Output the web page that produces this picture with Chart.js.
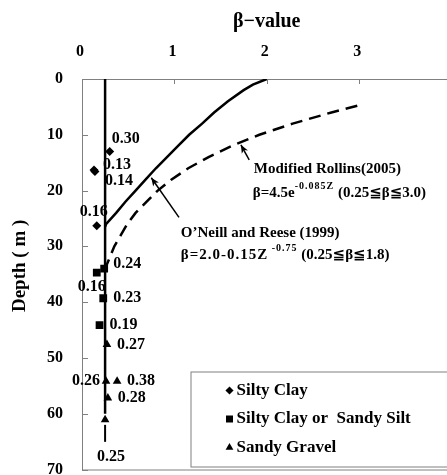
<!DOCTYPE html>
<html>
<head>
<meta charset="utf-8">
<script src="https://cdn.jsdelivr.net/npm/chart.js@4.4.0/dist/chart.umd.min.js"></script>
<style>
  html, body { margin: 0; padding: 0; background: #fff; overflow: hidden; }
  #wrap { width: 457px; height: 475px; }
</style>
</head>
<body>
<div id="wrap"><canvas id="grafico" width="457" height="475"></canvas></div>
<script>
// Ensaios: profundidade (m) e beta medido por tipo de solo
const clayDepth = [13.0, 16.3, 16.6, 26.3];
const clayBeta = [0.30, 0.13, 0.14, 0.16];
const siltDepth = [34.0, 34.7, 39.3, 44.1];
const siltBeta = [0.24, 0.16, 0.23, 0.19];
const gravelDepth = [47.6, 54.2, 54.2, 57.2, 61.1];
const gravelBeta = [0.27, 0.26, 0.38, 0.28, 0.25];

// Curvas de projeto
const oneillDepth = [0, 1, 2, 4, 6, 8, 10, 12, 14, 16, 18, 20, 22, 24, 26, 26.5];
const oneillBeta = [2.00, 1.85, 1.75, 1.58, 1.43, 1.30, 1.16, 1.04, 0.92, 0.80, 0.69, 0.58, 0.47, 0.37, 0.26, 0.25];
const rollinsDepth = [4.8, 6, 8, 10, 12, 14, 16, 18, 20, 22, 24, 26, 28, 30, 32, 34];
const rollinsBeta = [2.98, 2.70, 2.28, 1.92, 1.62, 1.37, 1.15, 0.97, 0.82, 0.70, 0.58, 0.49, 0.42, 0.35, 0.30, 0.25];
const limitDepth = [0, 60];
const limitBeta = [0.25, 0.25];

// Eixos
const betaTicks = [0, 1, 2, 3];
const depthTicks = [0, 10, 20, 30, 40, 50, 60, 70];

// Onde cada rótulo fica em relação ao ponto
const clayPlace = ['upRight', 'rightHigh', 'rightLow', 'above'];
const siltPlace = ['rightHigh', 'below', 'right', 'right'];
const gravelPlace = ['right', 'left', 'right', 'right', 'tip'];

const FONT = '"Liberation Serif", "Times New Roman", "DejaVu Sans", serif';

function toXY(betas, depths) {
    return betas.map((b, i) => ({ x: b, y: depths[i] }));
}

function boldFont(size) {
    return 'bold ' + size + 'px ' + FONT;
}

// deslocamentos dos rótulos (px)
const placeOffsets = {
    right:     { dx: 10, dy: 0, align: 'left' },
    rightHigh: { dx: 9, dy: -5, align: 'left' },
    rightLow:  { dx: 10, dy: 9, align: 'left' },
    upRight:   { dx: 2, dy: -13, align: 'left' },
    above:     { dx: -3, dy: -14, align: 'center' },
    below:     { dx: -5, dy: 14, align: 'center' },
    left:      { dx: -6, dy: 0, align: 'right' },
    tip:       { dx: 6, dy: 37, align: 'center' }
};

// Texto em partes (com sobrescrito e espaçamento opcional)
function drawParts(ctx, x, y, parts) {
    ctx.textAlign = 'left';
    ctx.textBaseline = 'middle';
    parts.forEach(p => {
        ctx.font = boldFont(p.size);
        ctx.letterSpacing = (p.gap || 0) + 'px';
        ctx.fillText(p.t, x, y - (p.raise || 0));
        x += ctx.measureText(p.t).width;
    });
    ctx.letterSpacing = '0px';
}

function drawArrow(ctx, x1, y1, x2, y2) {
    const ang = Math.atan2(y2 - y1, x2 - x1);
    ctx.beginPath();
    ctx.moveTo(x1, y1);
    ctx.lineTo(x2, y2);
    ctx.stroke();
    ctx.beginPath();
    ctx.moveTo(x2, y2);
    ctx.lineTo(x2 - 9 * Math.cos(ang - 0.4), y2 - 9 * Math.sin(ang - 0.4));
    ctx.lineTo(x2 - 6 * Math.cos(ang), y2 - 6 * Math.sin(ang));
    ctx.lineTo(x2 - 9 * Math.cos(ang + 0.4), y2 - 9 * Math.sin(ang + 0.4));
    ctx.closePath();
    ctx.fill();
}

const extras = {
    id: 'extras',
    beforeDatasetsDraw(chart) {
        const ctx = chart.ctx;
        const a = chart.chartArea;
        const sx = chart.scales.x, sy = chart.scales.y;
        ctx.save();
        // moldura da área do gráfico
        ctx.strokeStyle = '#808080';
        ctx.lineWidth = 1;
        ctx.strokeRect(a.left + 0.5, a.top + 0.5, a.right - a.left, a.bottom - a.top);
        // marcas dos eixos, para dentro
        ctx.beginPath();
        betaTicks.forEach(v => {
            const px = Math.round(sx.getPixelForValue(v)) + 0.5;
            ctx.moveTo(px, a.top);
            ctx.lineTo(px, a.top + 5);
        });
        depthTicks.forEach(v => {
            const py = Math.round(sy.getPixelForValue(v)) + 0.5;
            ctx.moveTo(a.left, py);
            ctx.lineTo(a.left + 6, py);
        });
        ctx.stroke();

        // título do eixo de profundidade
        ctx.fillStyle = '#000';
        ctx.font = boldFont(19);
        ctx.textAlign = 'center';
        ctx.textBaseline = 'middle';
        ctx.translate(20, sy.getPixelForValue(33.5));
        ctx.rotate(-Math.PI / 2);
        ctx.fillText('Depth ( m )', 0, 0);
        ctx.restore();
    },
    afterDatasetsDraw(chart) {
        const ctx = chart.ctx;
        const a = chart.chartArea;
        const sx = chart.scales.x, sy = chart.scales.y;
        ctx.save();
        ctx.fillStyle = '#000';
        ctx.strokeStyle = '#000';

        // valores ao lado dos pontos
        chart.data.datasets.forEach((ds, i) => {
            if (!ds.places) return;
            const meta = chart.getDatasetMeta(i);
            meta.data.forEach((pt, j) => {
                const o = placeOffsets[ds.places[j]];
                ctx.font = boldFont(16);
                ctx.textAlign = o.align;
                ctx.textBaseline = 'middle';
                ctx.fillText(ds.data[j].x.toFixed(2), pt.x + o.dx, pt.y + o.dy);
                if (ds.places[j] === 'tip') {
                    ctx.lineWidth = 2;
                    ctx.beginPath();
                    ctx.moveTo(pt.x, pt.y + 5);
                    ctx.lineTo(pt.x, pt.y + 22);
                    ctx.stroke();
                }
            });
        });

        // setas e fórmulas
        ctx.lineWidth = 1.5;
        drawArrow(ctx, sx.getPixelForValue(1.81), sy.getPixelForValue(14.5),
                  sx.getPixelForValue(1.72), sy.getPixelForValue(11.8));
        drawArrow(ctx, sx.getPixelForValue(1.05), sy.getPixelForValue(24.8),
                  sx.getPixelForValue(0.75), sy.getPixelForValue(17.7));

        const rx = sx.getPixelForValue(1.86);
        drawParts(ctx, rx, sy.getPixelForValue(16.2), [{ t: 'Modified Rollins(2005)', size: 15 }]);
        drawParts(ctx, rx - 1, sy.getPixelForValue(20.4), [
            { t: 'β=4.5e', size: 15 },
            { t: '-0.085Z', size: 10, raise: 6, gap: 1 },
            { t: ' (0.25≦β≦3.0)', size: 15 }
        ]);
        const ox = sx.getPixelForValue(1.07);
        drawParts(ctx, ox, sy.getPixelForValue(27.6), [{ t: 'O\u2019Neill and Reese (1999)', size: 15 }]);
        drawParts(ctx, ox, sy.getPixelForValue(31.5), [
            { t: 'β=2.0-0.15Z', size: 15, gap: 1 },
            { t: ' -0.75', size: 10, raise: 6, gap: 1 },
            { t: ' (0.25≦β≦1.8)', size: 15 }
        ]);

        // legenda dos tipos de solo
        const lx = a.right - 261, ly = a.bottom - 98;
        ctx.strokeStyle = '#808080';
        ctx.lineWidth = 1;
        ctx.strokeRect(lx + 0.5, ly + 0.5, a.right - lx + 10, a.bottom - 3 - ly);
        ctx.fillStyle = '#000';
        chart.data.datasets.filter(ds => ds.places).forEach((ds, k) => {
            const my = ly + 19 + k * 28.5;
            Chart.helpers.drawPoint(ctx, { pointStyle: ds.pointStyle, radius: ds.pointRadius * 0.9, borderWidth: 0, rotation: 0 }, lx + 39, my);
            ctx.font = boldFont(17);
            ctx.textAlign = 'left';
            ctx.textBaseline = 'middle';
            ctx.fillText(ds.label, lx + 46, my);
        });
        ctx.restore();
    }
};

const axisFont = { family: FONT, size: 16, weight: 'bold' };

new Chart(document.getElementById('grafico'), {
    type: 'scatter',
    data: {
        datasets: [
            {
                label: 'Silty Clay', data: toXY(clayBeta, clayDepth), places: clayPlace,
                pointStyle: 'rectRot', pointRadius: 4.5, backgroundColor: '#000', borderColor: '#000', borderWidth: 0
            },
            {
                label: 'Silty Clay or  Sandy Silt', data: toXY(siltBeta, siltDepth), places: siltPlace,
                pointStyle: 'rect', pointRadius: 5.5, backgroundColor: '#000', borderColor: '#000', borderWidth: 0
            },
            {
                label: 'Sandy Gravel', data: toXY(gravelBeta, gravelDepth), places: gravelPlace,
                pointStyle: 'triangle', pointRadius: 5, backgroundColor: '#000', borderColor: '#000', borderWidth: 0
            },
            {
                label: 'beta minimo', data: toXY(limitBeta, limitDepth), showLine: true,
                pointRadius: 0, borderColor: '#000', borderWidth: 2.5
            },
            {
                label: 'O\u2019Neill and Reese (1999)', data: toXY(oneillBeta, oneillDepth), showLine: true,
                pointRadius: 0, borderColor: '#000', borderWidth: 2.5
            },
            {
                label: 'Modified Rollins(2005)', data: toXY(rollinsBeta, rollinsDepth), showLine: true,
                pointRadius: 0, borderColor: '#000', borderWidth: 2.5, borderDash: [12, 7]
            }
        ]
    },
    options: {
        responsive: false,
        animation: false,
        layout: { padding: { left: 0, top: 0, right: 2, bottom: 4 } },
        scales: {
            x: {
                type: 'linear', position: 'top', min: 0, max: 4,
                afterFit: s => { s.height = 79; s.paddingLeft = 0; s.paddingRight = 0; },
                afterBuildTicks: s => { s.ticks = betaTicks.map(v => ({ value: v })); },
                grid: { display: false, drawTicks: false },
                border: { display: false },
                ticks: { padding: 18, labelOffset: -2, color: '#000', font: axisFont },
                title: {
                    display: true, text: 'β−value', color: '#000',
                    font: { family: FONT, size: 20, weight: 'bold' },
                    padding: { top: 10, bottom: 0 }
                }
            },
            y: {
                type: 'linear', reverse: true, min: 0, max: 70,
                afterFit: s => { s.width = 82; s.paddingTop = 0; s.paddingBottom = 0; },
                afterBuildTicks: s => { s.ticks = depthTicks.map(v => ({ value: v })); },
                grid: { display: false, drawTicks: false },
                border: { display: false },
                ticks: { padding: 19, color: '#000', font: axisFont }
            }
        },
        plugins: {
            legend: { display: false },
            tooltip: { enabled: false }
        }
    },
    plugins: [extras]
});
</script>
</body>
</html>
